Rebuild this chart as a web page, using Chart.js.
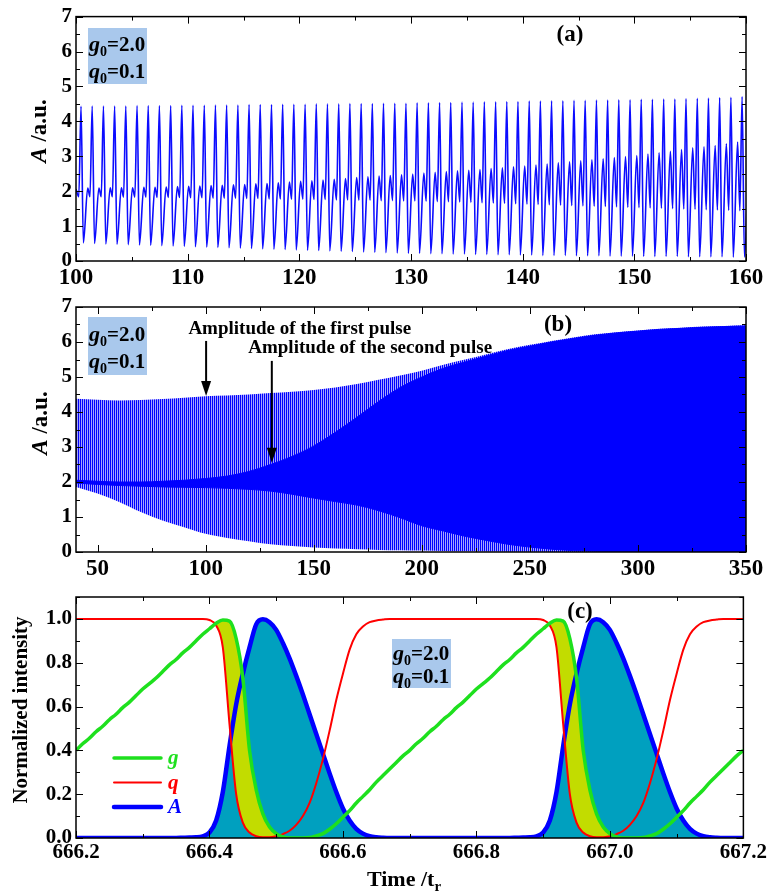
<!DOCTYPE html>
<html>
<head>
<meta charset="utf-8">
<script src="https://cdn.jsdelivr.net/npm/chart.js@4.4.0/dist/chart.umd.min.js"></script>
<style>
  body { margin: 0; background: #fff; }
  .panel { position: absolute; left: 0; }
</style>
</head>
<body>
<canvas id="chartA" class="panel" width="769" height="290" style="top:0"></canvas>
<canvas id="chartB" class="panel" width="769" height="290" style="top:290px"></canvas>
<canvas id="chartC" class="panel" width="769" height="313" style="top:580px"></canvas>
<script>
// ---- parameters shown in the boxes ----
const g0 = '2.0';
const q0 = '0.1';

// ---- (a) A(t), t = 100..160: one entry per round trip ----
const cycleTimes = [100.45,101.45,102.46,103.46,104.46,105.47,106.47,107.47,108.48,109.48,
  110.48,111.49,112.49,113.49,114.50,115.50,116.50,117.51,118.51,119.51,
  120.52,121.52,122.52,123.53,124.53,125.54,126.54,127.54,128.55,129.55,
  130.55,131.56,132.56,133.56,134.57,135.57,136.57,137.58,138.58,139.58,
  140.59,141.59,142.59,143.60,144.60,145.60,146.61,147.61,148.61,149.62,
  150.62,151.62,152.63,153.63,154.63,155.64,156.64,157.64,158.65,159.65];
// main pulse peak
const peakA = [4.43,4.44,4.44,4.44,4.44,4.45,4.45,4.45,4.45,4.46,
  4.46,4.46,4.47,4.47,4.47,4.48,4.48,4.48,4.49,4.49,
  4.49,4.50,4.50,4.50,4.51,4.51,4.51,4.52,4.52,4.52,
  4.53,4.53,4.54,4.54,4.55,4.55,4.56,4.56,4.57,4.57,
  4.58,4.58,4.59,4.59,4.60,4.60,4.61,4.61,4.62,4.62,
  4.63,4.63,4.64,4.64,4.65,4.66,4.67,4.68,4.69,4.71];
// minimum right after the main pulse
const troughA = [0.52,0.50,0.49,0.48,0.47,0.46,0.45,0.44,0.43,0.42,
  0.41,0.40,0.39,0.38,0.37,0.36,0.35,0.34,0.33,0.32,
  0.31,0.30,0.29,0.28,0.27,0.26,0.25,0.24,0.23,0.22,
  0.22,0.21,0.21,0.20,0.20,0.19,0.19,0.18,0.18,0.17,
  0.17,0.16,0.16,0.16,0.15,0.15,0.15,0.14,0.14,0.14,
  0.13,0.13,0.13,0.13,0.12,0.12,0.12,0.12,0.11,0.11];
// second (weak) pulse
const bumpA = [2.09,2.09,2.10,2.10,2.10,2.11,2.11,2.12,2.13,2.14,
  2.15,2.16,2.17,2.18,2.19,2.21,2.22,2.24,2.26,2.28,
  2.30,2.32,2.34,2.36,2.39,2.41,2.43,2.45,2.47,2.49,
  2.52,2.54,2.56,2.58,2.60,2.62,2.65,2.67,2.70,2.72,
  2.75,2.78,2.81,2.84,2.87,2.90,2.93,2.96,2.99,3.02,
  3.06,3.10,3.14,3.19,3.24,3.27,3.31,3.36,3.41,3.45];
// shallow dip just before each main pulse
const dipA = [1.84,1.84,1.84,1.84,1.83,1.83,1.83,1.82,1.82,1.82,
  1.81,1.81,1.80,1.80,1.80,1.79,1.79,1.78,1.78,1.77,
  1.77,1.76,1.76,1.75,1.75,1.74,1.74,1.73,1.73,1.72,
  1.72,1.71,1.70,1.70,1.69,1.68,1.67,1.66,1.65,1.64,
  1.63,1.62,1.61,1.60,1.59,1.58,1.57,1.56,1.55,1.54,
  1.53,1.52,1.51,1.50,1.49,1.48,1.47,1.46,1.45,1.44];
const startA = 2.06;

// ---- (b) envelopes, t = 40..350 ----
const tEnv = [40,50,60,70,80,90,100,110,120,130,140,150,160,170,180,190,200,210,220,230,240,250,260,270,280,290,300,310,320,330,340,350];
const firstPulseEnv = [4.38,4.35,4.33,4.34,4.37,4.41,4.45,4.47,4.50,4.54,4.58,4.63,4.70,4.80,4.92,5.04,5.18,5.35,5.50,5.65,5.80,5.92,6.03,6.13,6.22,6.28,6.33,6.38,6.41,6.44,6.46,6.48];
const secondPulseEnv = [2.05,2.02,2.00,2.00,2.02,2.05,2.10,2.17,2.30,2.50,2.73,3.03,3.42,3.85,4.30,4.70,5.00,5.25,5.43,5.60,5.76,5.88,6.00,6.10,6.19,6.26,6.31,6.36,6.39,6.42,6.44,6.46];
const dipEnv = [1.97,1.93,1.90,1.88,1.86,1.85,1.84,1.82,1.79,1.74,1.65,1.54,1.44,1.34,1.18,0.98,0.75,0.60,0.45,0.33,0.22,0.14,0.08,0.04,0.02,0.01,0,0,0,0,0,0];
const troughEnv = [1.86,1.67,1.43,1.14,0.90,0.71,0.52,0.40,0.31,0.22,0.17,0.13,0.10,0.08,0.06,0.05,0.04,0.03,0.02,0.015,0.01,0.005,0,0,0,0,0,0,0,0,0,0];

// ---- (c) normalized g, q, A over two round trips ----
const tStart = 666.2, tStep = 0.01;
const gC = [0.40,0.43,0.455,0.485,0.51,0.54,0.565,0.595,0.62,0.65,
  0.68,0.705,0.73,0.76,0.79,0.815,0.845,0.87,0.90,0.93,
  0.955,0.98,0.995,0.99,0.91,0.73,0.40,0.22,0.11,0.05,
  0.02,0.005,0,0,0,0.002,0.01,0.02,0.04,0.065,
  0.095,0.125,0.16,0.19,0.22,0.255,0.285,0.315,0.345,0.375,
  0.40,0.43,0.455,0.485,0.51,0.54,0.565,0.595,0.62,0.65,
  0.68,0.705,0.73,0.76,0.79,0.815,0.845,0.87,0.90,0.93,
  0.955,0.98,0.995,0.99,0.91,0.73,0.40,0.22,0.11,0.05,
  0.02,0.005,0,0,0,0.002,0.01,0.02,0.04,0.065,
  0.095,0.125,0.16,0.19,0.22,0.255,0.285,0.315,0.345,0.375,
  0.40];
const qC = [1,1,1,1,1,1,1,1,1,1,
  1,1,1,1,1,1,1,1,1,1,
  0.995,0.97,0.87,0.52,0.20,0.07,0.025,0.008,0.003,0.003,
  0.008,0.018,0.033,0.06,0.10,0.16,0.25,0.36,0.49,0.63,
  0.75,0.86,0.93,0.965,0.985,0.993,0.997,1,1,1,
  1,1,1,1,1,1,1,1,1,1,
  1,1,1,1,1,1,1,1,1,1,
  0.995,0.97,0.87,0.52,0.20,0.07,0.025,0.008,0.003,0.003,
  0.008,0.018,0.033,0.06,0.10,0.16,0.25,0.36,0.49,0.63,
  0.75,0.86,0.93,0.965,0.985,0.993,0.997,1,1,1,
  1];
const aC = [0,0,0,0,0,0,0,0,0,0,
  0,0,0,0,0,0,0.001,0.002,0.003,0.008,
  0.025,0.08,0.21,0.42,0.61,0.75,0.87,0.975,0.998,0.985,
  0.95,0.89,0.82,0.74,0.655,0.565,0.475,0.385,0.295,0.21,
  0.135,0.08,0.042,0.02,0.008,0.003,0.001,0,0,0,
  0,0,0,0,0,0,0,0,0,0,
  0,0,0,0,0,0,0.001,0.002,0.003,0.008,
  0.025,0.08,0.21,0.42,0.61,0.75,0.87,0.975,0.998,0.985,
  0.95,0.89,0.82,0.74,0.655,0.565,0.475,0.385,0.295,0.21,
  0.135,0.08,0.042,0.02,0.008,0.003,0.001,0,0,0,
  0];

// ---- axis ticks ----
const xTicksA = [100,110,120,130,140,150,160];
const xTicksB = [50,100,150,200,250,300,350];
const yTicksAB = [0,1,2,3,4,5,6,7];
const xTicksC = [666.2,666.4,666.6,666.8,667.0,667.2];
const yTicksC = [0,0.2,0.4,0.6,0.8,1.0];

const SERIF = "'Liberation Serif', 'Times New Roman', serif";
const BOX_BG = '#a9c8ec';
Chart.defaults.font.family = SERIF;
Chart.defaults.color = '#000';

// frame around the plot plus inward ticks on all four sides
const frameTicks = {
  id: 'frameTicks',
  afterDatasetsDraw(chart, args, o) {
    const { ctx, chartArea: a, scales: { x, y } } = chart;
    const series = (from, to, step) => {
      const out = [];
      for (let i = 0; ; i++) {
        const v = +(from + i * step).toFixed(6);
        if (v > to + 1e-9) break;
        out.push(v);
      }
      return out;
    };
    const isMajor = (list, v) => list.some(m => Math.abs(m - v) < 1e-6);
    ctx.save();
    ctx.strokeStyle = '#000';
    ctx.lineWidth = 1;
    ctx.beginPath();
    series(o.xFrom, x.max, o.xMinor).forEach(v => {
      const px = Math.round(x.getPixelForValue(v)) + 0.5;
      const len = isMajor(o.xMajor, v) ? 7 : 4;
      ctx.moveTo(px, a.bottom); ctx.lineTo(px, a.bottom - len);
      ctx.moveTo(px, a.top); ctx.lineTo(px, a.top + len);
    });
    series(o.yFrom, y.max, o.yMinor).forEach(v => {
      const py = Math.round(y.getPixelForValue(v)) + 0.5;
      const len = isMajor(o.yMajor, v) ? 7 : 4;
      ctx.moveTo(a.left, py); ctx.lineTo(a.left + len, py);
      ctx.moveTo(a.right, py); ctx.lineTo(a.right - len, py);
    });
    ctx.stroke();
    ctx.lineWidth = 1.5;
    ctx.strokeRect(a.left, a.top, a.right - a.left, a.bottom - a.top);
    ctx.restore();
  }
};

// text made of runs with their own font and vertical shift
function drawRuns(ctx, x, y, runs, align) {
  let w = 0;
  runs.forEach(([t, f]) => { ctx.font = f; w += ctx.measureText(t).width; });
  let cx = align === 'center' ? x - w / 2 : x;
  runs.forEach(([t, f, dy]) => {
    ctx.font = f;
    ctx.fillText(t, cx, y + (dy || 0));
    cx += ctx.measureText(t).width;
  });
}

function paramBox(ctx, x, y, w, h, b1, b2) {
  ctx.fillStyle = BOX_BG;
  ctx.fillRect(x, y, w, h);
  ctx.fillStyle = '#000';
  ctx.textBaseline = 'alphabetic';
  drawRuns(ctx, x + 1, y + b1, [['g', 'italic bold 22px ' + SERIF], ['0', 'bold 14px ' + SERIF, 5], ['=' + g0, 'bold 21px ' + SERIF]]);
  drawRuns(ctx, x + 1, y + b2, [['q', 'italic bold 22px ' + SERIF], ['0', 'bold 14px ' + SERIF, 5], ['=' + q0, 'bold 21px ' + SERIF]]);
}

function yTitleAU(ctx, cx, cy) {
  ctx.save();
  ctx.translate(cx, cy);
  ctx.rotate(-Math.PI / 2);
  ctx.fillStyle = '#000';
  ctx.textBaseline = 'middle';
  drawRuns(ctx, 0, 0, [['A', 'italic bold 23px ' + SERIF], [' /a.u.', 'bold 23px ' + SERIF]], 'center');
  ctx.restore();
}

function panelTag(ctx, text, cx, cy) {
  ctx.save();
  ctx.fillStyle = '#000';
  ctx.font = 'bold 23px ' + SERIF;
  ctx.textAlign = 'center';
  ctx.textBaseline = 'middle';
  ctx.fillText(text, cx, cy);
  ctx.restore();
}

function axes(o) {
  return {
    x: {
      type: 'linear', min: o.xMin, max: o.xMax,
      afterBuildTicks: s => { s.ticks = o.xTicks.map(v => ({ value: v })); },
      afterFit: s => { s.height = o.xH; },
      grid: { display: false, drawTicks: false }, border: { display: false },
      ticks: { font: { size: o.xFont, weight: 'bold' }, padding: o.xPad, maxRotation: 0, autoSkip: false, callback: o.fmtX }
    },
    y: {
      type: 'linear', min: o.yMin, max: o.yMax,
      afterBuildTicks: s => { s.ticks = o.yTicks.map(v => ({ value: v })); },
      afterFit: s => { s.width = 76; },
      grid: { display: false, drawTicks: false }, border: { display: false },
      ticks: { font: { size: o.yFont, weight: 'bold' }, padding: 4, autoSkip: false, callback: o.fmtY }
    }
  };
}

const common = {
  responsive: false,
  animation: false,
  devicePixelRatio: 1,
  events: [],
  plugins: { legend: { display: false }, tooltip: { enabled: false }, filler: { drawTime: 'beforeDatasetsDraw' } },
  elements: { point: { radius: 0 } }
};

// ---------- (a) ----------
const pointsA = [{ x: 100, y: startA }];
cycleTimes.forEach((t, i) => {
  pointsA.push(
    { x: t - 0.2, y: dipA[i] },
    { x: t, y: peakA[i] },
    { x: t + 0.21, y: troughA[i] },
    { x: t + 0.6, y: bumpA[i] }
  );
});

new Chart(document.getElementById('chartA'), {
  type: 'line',
  data: { datasets: [{ data: pointsA, borderColor: '#0c0cff', borderWidth: 1.6, cubicInterpolationMode: 'monotone', fill: false }] },
  options: {
    ...common,
    layout: { padding: { left: 0, right: 23, top: 16, bottom: 0 } },
    scales: axes({ xMin: 100, xMax: 160, xTicks: xTicksA, yMin: 0, yMax: 7, yTicks: yTicksAB, xH: 29, xFont: 23, xPad: 3, yFont: 21, fmtX: v => String(v), fmtY: v => String(v) }),
    plugins: { ...common.plugins, frameTicks: { xFrom: 100, xMinor: 5, xMajor: xTicksA, yFrom: 0, yMinor: 0.5, yMajor: yTicksAB } }
  },
  plugins: [frameTicks, {
    id: 'decorA',
    afterDraw(chart) {
      const ctx = chart.ctx;
      paramBox(ctx, 88, 28, 59, 56, 23, 50);
      panelTag(ctx, '(a)', 570, 35);
      yTitleAU(ctx, 40, 131);
    }
  }]
});

// ---------- (b) ----------
const ctxB = document.getElementById('chartB').getContext('2d');
const stripeTile = document.createElement('canvas');
stripeTile.width = 2; stripeTile.height = 1;
const st = stripeTile.getContext('2d');
st.fillStyle = '#0000ff'; st.fillRect(0, 0, 1, 1);
st.fillStyle = '#a4a4ff'; st.fillRect(1, 0, 1, 1);
const stripes = ctxB.createPattern(stripeTile, 'repeat');

const env = arr => tEnv.map((t, i) => ({ x: t, y: arr[i] }));
const annB = [
  { text: 'Amplitude of the first pulse', tx: 92.0, ty: 6.22, ax: 100.2, from: 6.03, to: 4.46 },
  { text: 'Amplitude of the second pulse', tx: 119.7, ty: 5.68, ax: 130.6, from: 5.46, to: 2.55 }
];

new Chart(ctxB, {
  type: 'line',
  data: {
    datasets: [
      { data: env(dipEnv), borderColor: '#0000ff', borderWidth: 1, cubicInterpolationMode: 'monotone', fill: false },
      { data: env(secondPulseEnv), borderColor: '#0000ff', borderWidth: 1, cubicInterpolationMode: 'monotone', fill: { target: 0 }, backgroundColor: '#0000ff' },
      { data: env(troughEnv), borderWidth: 0, cubicInterpolationMode: 'monotone', fill: false },
      { data: env(firstPulseEnv), borderWidth: 0, cubicInterpolationMode: 'monotone', fill: { target: 2 }, backgroundColor: stripes }
    ]
  },
  options: {
    ...common,
    layout: { padding: { left: 0, right: 23, top: 17, bottom: 0 } },
    scales: axes({ xMin: 40, xMax: 350, xTicks: xTicksB, yMin: 0, yMax: 7, yTicks: yTicksAB, xH: 28, xFont: 23, xPad: 3, yFont: 21, fmtX: v => String(v), fmtY: v => String(v) }),
    plugins: { ...common.plugins, frameTicks: { xFrom: 50, xMinor: 25, xMajor: xTicksB, yFrom: 0, yMinor: 0.5, yMajor: yTicksAB } }
  },
  plugins: [frameTicks, {
    id: 'decorB',
    afterDraw(chart) {
      const { ctx, scales: { x, y } } = chart;
      paramBox(ctx, 88, 27, 59, 58, 24, 51);
      panelTag(ctx, '(b)', 558, 35);
      yTitleAU(ctx, 41, 133);
      ctx.save();
      ctx.fillStyle = '#000';
      ctx.strokeStyle = '#000';
      ctx.font = 'bold 19px ' + SERIF;
      ctx.textBaseline = 'alphabetic';
      annB.forEach(a => {
        ctx.fillText(a.text, x.getPixelForValue(a.tx), y.getPixelForValue(a.ty));
        const px = x.getPixelForValue(a.ax);
        const y0 = y.getPixelForValue(a.from), y1 = y.getPixelForValue(a.to);
        ctx.lineWidth = 2;
        ctx.beginPath(); ctx.moveTo(px, y0); ctx.lineTo(px, y1 - 12); ctx.stroke();
        ctx.beginPath(); ctx.moveTo(px - 5, y1 - 15); ctx.lineTo(px + 5, y1 - 15); ctx.lineTo(px, y1); ctx.closePath(); ctx.fill();
      });
      ctx.restore();
    }
  }]
});

// ---------- (c) ----------
const tC = gC.map((_, i) => +(tStart + i * tStep).toFixed(2));
const ser = arr => tC.map((t, i) => ({ x: t, y: arr[i] }));

new Chart(document.getElementById('chartC'), {
  type: 'line',
  data: {
    datasets: [
      { label: 'g', data: ser(gC), borderColor: '#1ee01e', borderWidth: 3.5, cubicInterpolationMode: 'monotone',
        fill: { target: 1, above: '#c2dc00', below: 'rgba(0,0,0,0)' } },
      { label: 'q', data: ser(qC), borderColor: '#ff0000', borderWidth: 2, cubicInterpolationMode: 'monotone', fill: false },
      { label: 'A', data: ser(aC), borderColor: '#0000ff', borderWidth: 4.5, cubicInterpolationMode: 'monotone',
        fill: 'origin', backgroundColor: '#00a0bf' }
    ]
  },
  options: {
    ...common,
    layout: { padding: { left: 0, right: 23, top: 17, bottom: 0 } },
    scales: axes({ xMin: 666.2, xMax: 667.2, xTicks: xTicksC, yMin: 0, yMax: 1.1, yTicks: yTicksC, xH: 55, xFont: 21, xPad: 2, yFont: 21, fmtX: v => v.toFixed(1), fmtY: v => v.toFixed(1) }),
    plugins: { ...common.plugins, frameTicks: { xFrom: 666.2, xMinor: 0.1, xMajor: xTicksC, yFrom: 0, yMinor: 0.1, yMajor: yTicksC } }
  },
  plugins: [frameTicks, {
    id: 'decorC',
    afterDraw(chart) {
      const ctx = chart.ctx;
      paramBox(ctx, 392, 59, 59, 49, 21, 44);
      panelTag(ctx, '(c)', 580, 32);
      // legend
      ctx.save();
      chart.data.datasets.forEach((ds, i) => {
        const ly = 178 + i * 24.5;
        ctx.strokeStyle = ds.borderColor;
        ctx.lineWidth = ds.borderWidth;
        ctx.lineCap = 'round';
        ctx.beginPath(); ctx.moveTo(114, ly); ctx.lineTo(161, ly); ctx.stroke();
        ctx.fillStyle = ds.borderColor;
        ctx.font = 'italic bold 21px ' + SERIF;
        ctx.textBaseline = 'middle';
        ctx.fillText(ds.label, 168, ly + 1);
      });
      // axis titles
      ctx.fillStyle = '#000';
      ctx.textBaseline = 'alphabetic';
      drawRuns(ctx, 404, 306, [['Time /t', 'bold 22px ' + SERIF], ['r', 'bold 15px ' + SERIF, 5]], 'center');
      ctx.translate(22, 130);
      ctx.rotate(-Math.PI / 2);
      ctx.font = 'bold 21px ' + SERIF;
      ctx.textAlign = 'center';
      ctx.textBaseline = 'middle';
      ctx.fillText('Normalized intensity', 0, 0);
      ctx.restore();
    }
  }]
});
</script>
</body>
</html>
